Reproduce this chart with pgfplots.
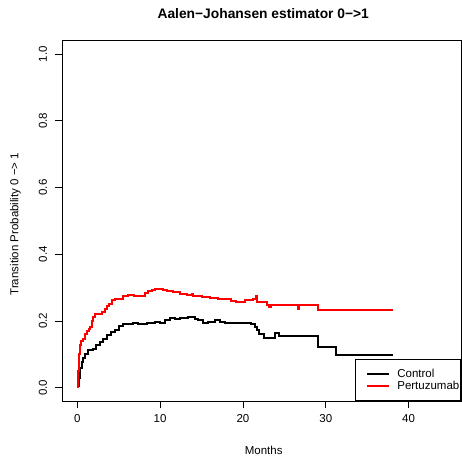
\documentclass[border=0pt]{standalone}
\usepackage{fontspec}
\setmainfont{Liberation Sans}
\usepackage{pgfplots}
\pgfplotsset{compat=1.18}

\newcommand{\basefont}{\fontsize{11.5}{13.8}\selectfont}

\begin{document}
\begin{tikzpicture}
\begin{axis}[
    at={(62.3pt,55pt)}, anchor=south west,
    scale only axis,
    width=398.7pt, height=360.3pt,
    xmin=-1.8, xmax=46.32,
    ymin=-0.04, ymax=1.04,
    axis line style={line width=0.75pt},
    every tick/.style={black, line width=0.75pt},
    tick align=outside,
    major tick length=7pt,
    xtick pos=bottom, ytick pos=left,
    xtick={0,10,20,30,40},
    ytick={0,0.2,0.4,0.6,0.8,1.0},
    /pgf/number format/assume math mode=true,
    tick label style={font=\basefont},
    yticklabel style={/pgf/number format/fixed, /pgf/number format/fixed zerofill,
                      /pgf/number format/precision=1,
                      xshift=-8pt, rotate=90, anchor=south, inner sep=0pt},
    xticklabel style={anchor=north, inner sep=0pt, yshift=-6pt},
    every axis title/.style={at={(axis description cs:0.504,1.074)}, anchor=center,
                 font=\bfseries\fontsize{13.8}{16}\selectfont},
    title={Aalen−Johansen estimator 0−>1},
    xlabel={Months},
    xlabel style={at={(axis description cs:0.505,-0.138)}, anchor=center, font=\basefont},
    ylabel={Transition Probability 0 −> 1},
    ylabel style={at={(axis description cs:-0.1175,0.491)}, anchor=center, font=\basefont},
    legend style={at={(1,0)}, anchor=south east, draw=black, line width=0.75pt,
                  font=\basefont, inner xsep=10.3pt, inner ysep=8.1pt,
                  row sep=-2pt, column sep=5pt,
                  cells={anchor=west, inner xsep=0pt, inner ysep=0.6pt,
                         text height=8.2pt, text depth=2.4pt}},
    legend image code/.code={\draw[#1, line width=2pt] (0pt,0pt) -- (22.7pt,0pt);},
]
% Control
\addplot[const plot, black, line width=2pt, mark=none] coordinates {
 (0,0.005) (0.2,0.03) (0.3,0.06) (0.53,0.077) (0.75,0.09) (0.93,0.102)
 (1.33,0.112) (1.86,0.115) (2.26,0.127) (2.74,0.137) (3.14,0.147) (3.55,0.157)
 (4.03,0.167) (4.55,0.174) (5.07,0.184) (5.55,0.192) (6.76,0.194) (7.36,0.19)
 (8.37,0.194) (9.37,0.197) (9.98,0.194) (10.58,0.204) (11.2,0.209) (11.8,0.205)
 (12.4,0.21) (13.4,0.212) (14.2,0.207) (14.6,0.202) (15.2,0.195) (15.8,0.197)
 (16.6,0.202) (17.2,0.197) (17.8,0.195) (21.0,0.19) (21.4,0.182) (21.7,0.172)
 (22.0,0.162) (22.6,0.149) (23.85,0.164) (24.4,0.154) (29.1,0.122) (31.2,0.097)
 (38.1,0.097)
};
\addlegendentry{\makebox[51pt][l]{Control}}
% Pertuzumab
\addplot[const plot, red, line width=2pt, mark=none] coordinates {
 (0,0.003) (0.1,0.05) (0.2,0.10) (0.3,0.127) (0.5,0.14) (0.73,0.147) (0.9,0.16)
 (1.13,0.169) (1.4,0.175) (1.6,0.182) (1.75,0.20) (1.86,0.212) (2.14,0.222)
 (2.94,0.227) (3.34,0.237) (3.6,0.245) (3.86,0.252) (4.15,0.262) (4.55,0.267)
 (5.55,0.274) (6.15,0.279) (6.9,0.276) (8.17,0.285) (8.6,0.289) (8.97,0.292)
 (9.37,0.295) (10.3,0.293) (10.78,0.29) (11.58,0.287) (12.4,0.282) (13.2,0.279)
 (13.8,0.282) (14.0,0.275) (15.0,0.272) (16.0,0.27) (17.0,0.267) (18.6,0.26)
 (19.2,0.256) (20.2,0.262) (21.2,0.267) (21.55,0.275) (21.75,0.257) (22.85,0.249)
 (23.2,0.242) (23.4,0.249) (26.6,0.237) (26.8,0.249) (29.1,0.232) (38.1,0.232)
};
\addlegendentry{\makebox[51pt][l]{Pertuzumab}}
\end{axis}
\pgfresetboundingbox
\useasboundingbox (0,0) rectangle (462pt,456pt);
\end{tikzpicture}
\end{document}
